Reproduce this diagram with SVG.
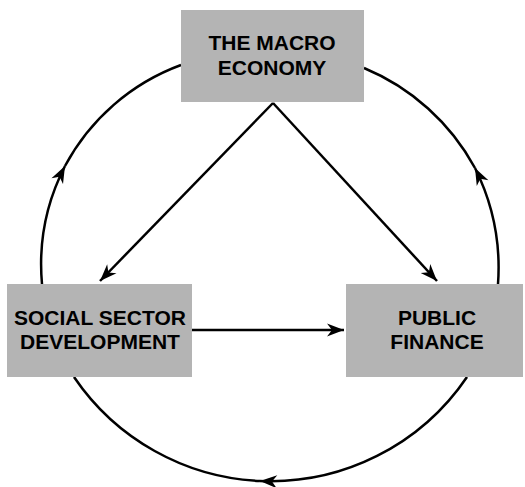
<svg xmlns="http://www.w3.org/2000/svg" width="525" height="487" viewBox="0 0 525 487">
<style>
.box{fill:#b4b4b4;stroke:none}
.lbl{font-family:"Liberation Sans",Arial,sans-serif;font-weight:bold;font-size:21px;fill:#000;text-anchor:middle}
.ln{fill:none;stroke:#000;stroke-width:2.5}
</style>
<defs>
<marker id="ah" markerUnits="userSpaceOnUse" markerWidth="20" markerHeight="14" viewBox="-17 -7 19 14" refX="0" refY="0" orient="auto">
<path d="M0,0 L-17,-6.5 L-12,0 L-17,6.5 Z" fill="#000"/>
</marker>
</defs>
<g id="connectors">
<path class="ln" d="M273 103 L100 281" marker-end="url(#ah)"/>
<path class="ln" d="M273 103 L437 281" marker-end="url(#ah)"/>
<path class="ln" d="M192 330 L344 330" marker-end="url(#ah)"/>
<path class="ln" d="M42 284 A216 216 0 0 1 65 166" marker-end="url(#ah)"/>
<path class="ln" d="M65 166 A216 216 0 0 1 181 65"/>
<path class="ln" d="M498 284 A224 224 0 0 0 475 168" marker-end="url(#ah)"/>
<path class="ln" d="M475 168 A224 224 0 0 0 364 68"/>
<path class="ln" d="M467 377 A237.6 237.6 0 0 1 260 481" marker-end="url(#ah)"/>
<path class="ln" d="M260 481 A237.6 237.6 0 0 1 74 377"/>
</g>
<g id="macro">
<rect class="box" x="181" y="10" width="183" height="92"/>
<text class="lbl" x="272" y="50">THE MACRO</text>
<text class="lbl" x="272" y="75">ECONOMY</text>
</g>
<g id="social">
<rect class="box" x="7" y="284" width="185" height="93"/>
<text class="lbl" x="100" y="325">SOCIAL SECTOR</text>
<text class="lbl" x="100" y="349">DEVELOPMENT</text>
</g>
<g id="public">
<rect class="box" x="346" y="284" width="177" height="93"/>
<text class="lbl" x="437" y="325">PUBLIC</text>
<text class="lbl" x="437" y="349">FINANCE</text>
</g>
</svg>
